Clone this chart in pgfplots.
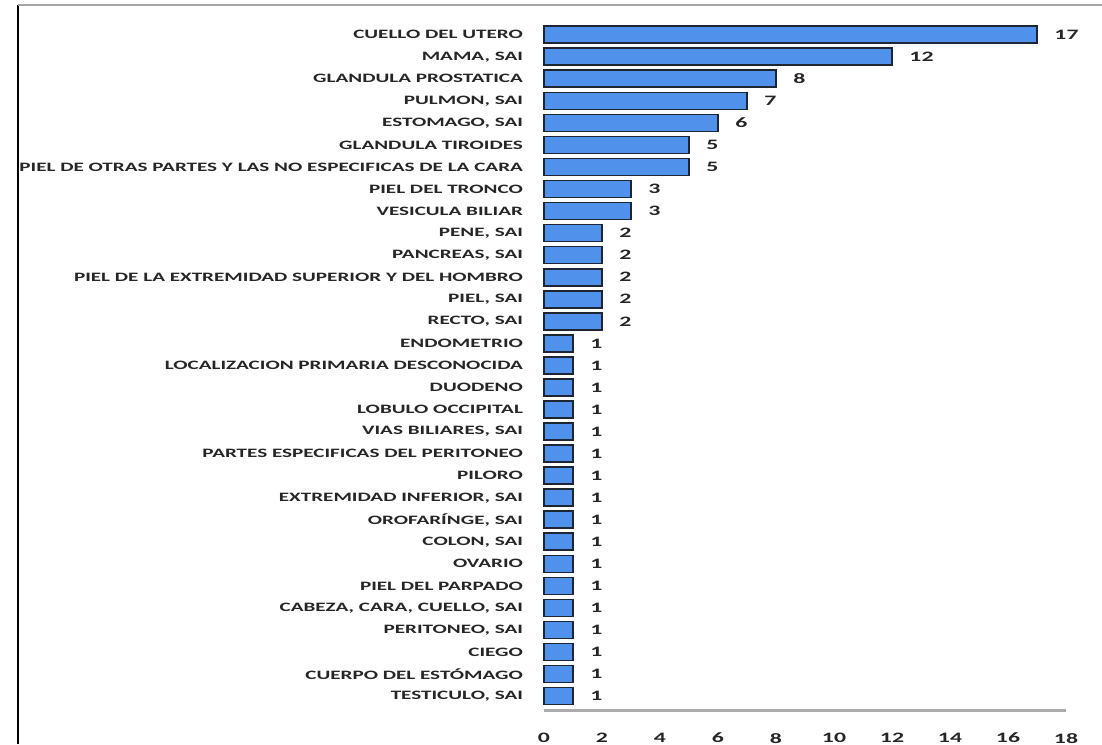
\documentclass[border=0pt]{standalone}
\usepackage{pgfplots}
\pgfplotsset{compat=1.18}
\usetikzlibrary{calc}
\usepackage{fontspec}
\setmainfont{Carlito}
\newfontfamily\lbl{Carlito}[FakeStretch=1.65]
\definecolor{barblue}{RGB}{79,145,235}
\definecolor{barline}{RGB}{30,38,52}
\begin{document}
\begin{tikzpicture}
\begin{axis}[
  name=ax,
  scale only axis, width=261pt, height=344.6pt,
  xbar, bar width=8.5pt,
  xmin=0, xmax=18, ymin=-0.63, ymax=30.63, y dir=reverse,
  axis lines*=left,
  y axis line style={draw=none},
  x axis line style={draw=gray!65, line width=1.5pt},
  major tick length=0,
  xtick={0,2,...,18},
  ytick={0,...,30},
  yticklabels={CUELLO DEL UTERO, {MAMA, SAI}, GLANDULA PROSTATICA, {PULMON, SAI}, {ESTOMAGO, SAI}, GLANDULA TIROIDES, PIEL DE OTRAS PARTES Y LAS NO ESPECIFICAS DE LA CARA, PIEL DEL TRONCO, VESICULA BILIAR, {PENE, SAI}, {PANCREAS, SAI}, PIEL DE LA EXTREMIDAD SUPERIOR Y DEL HOMBRO, {PIEL, SAI}, {RECTO, SAI}, ENDOMETRIO, LOCALIZACION PRIMARIA DESCONOCIDA, DUODENO, LOBULO OCCIPITAL, {VIAS BILIARES, SAI}, PARTES ESPECIFICAS DEL PERITONEO, PILORO, {EXTREMIDAD INFERIOR, SAI}, {OROFARÍNGE, SAI}, {COLON, SAI}, OVARIO, PIEL DEL PARPADO, {CABEZA, CARA, CUELLO, SAI}, {PERITONEO, SAI}, CIEGO, CUERPO DEL ESTÓMAGO, {TESTICULO, SAI}},
  yticklabel style={font=\lbl\bfseries\fontsize{6.4}{7}\selectfont, color=black!85, xshift=-7pt},
  xticklabel style={font=\lbl\bfseries\fontsize{7.2}{8}\selectfont, color=black!85, yshift=-8pt},
  /pgf/number format/assume math mode=true,
  nodes near coords,
  nodes near coords style={font=\lbl\bfseries\fontsize{7.2}{8}\selectfont, color=black!85, anchor=west, xshift=5pt},
  clip=false,
]
\addplot[fill=barblue, draw=barline, line width=0.8pt] coordinates {
(17,0) (12,1) (8,2) (7,3) (6,4) (5,5) (5,6) (3,7) (3,8) (2,9) (2,10) (2,11) (2,12) (2,13)
(1,14) (1,15) (1,16) (1,17) (1,18) (1,19) (1,20) (1,21) (1,22) (1,23) (1,24) (1,25) (1,26) (1,27) (1,28) (1,29) (1,30)
};
\end{axis}
\coordinate (O) at ($(ax.south west)+(-272pt,-17pt)$);
\draw[black, line width=1pt] ($(O)+(9pt,0)$) -- ($(O)+(9pt,369.5pt)$);
\draw[gray!70, line width=1.2pt] ($(O)+(9pt,369.5pt)$) -- ($(O)+(551pt,369.5pt)$);
\pgfresetboundingbox
\path[use as bounding box] (O) rectangle ($(O)+(551pt,372pt)$);
\end{tikzpicture}
\end{document}
